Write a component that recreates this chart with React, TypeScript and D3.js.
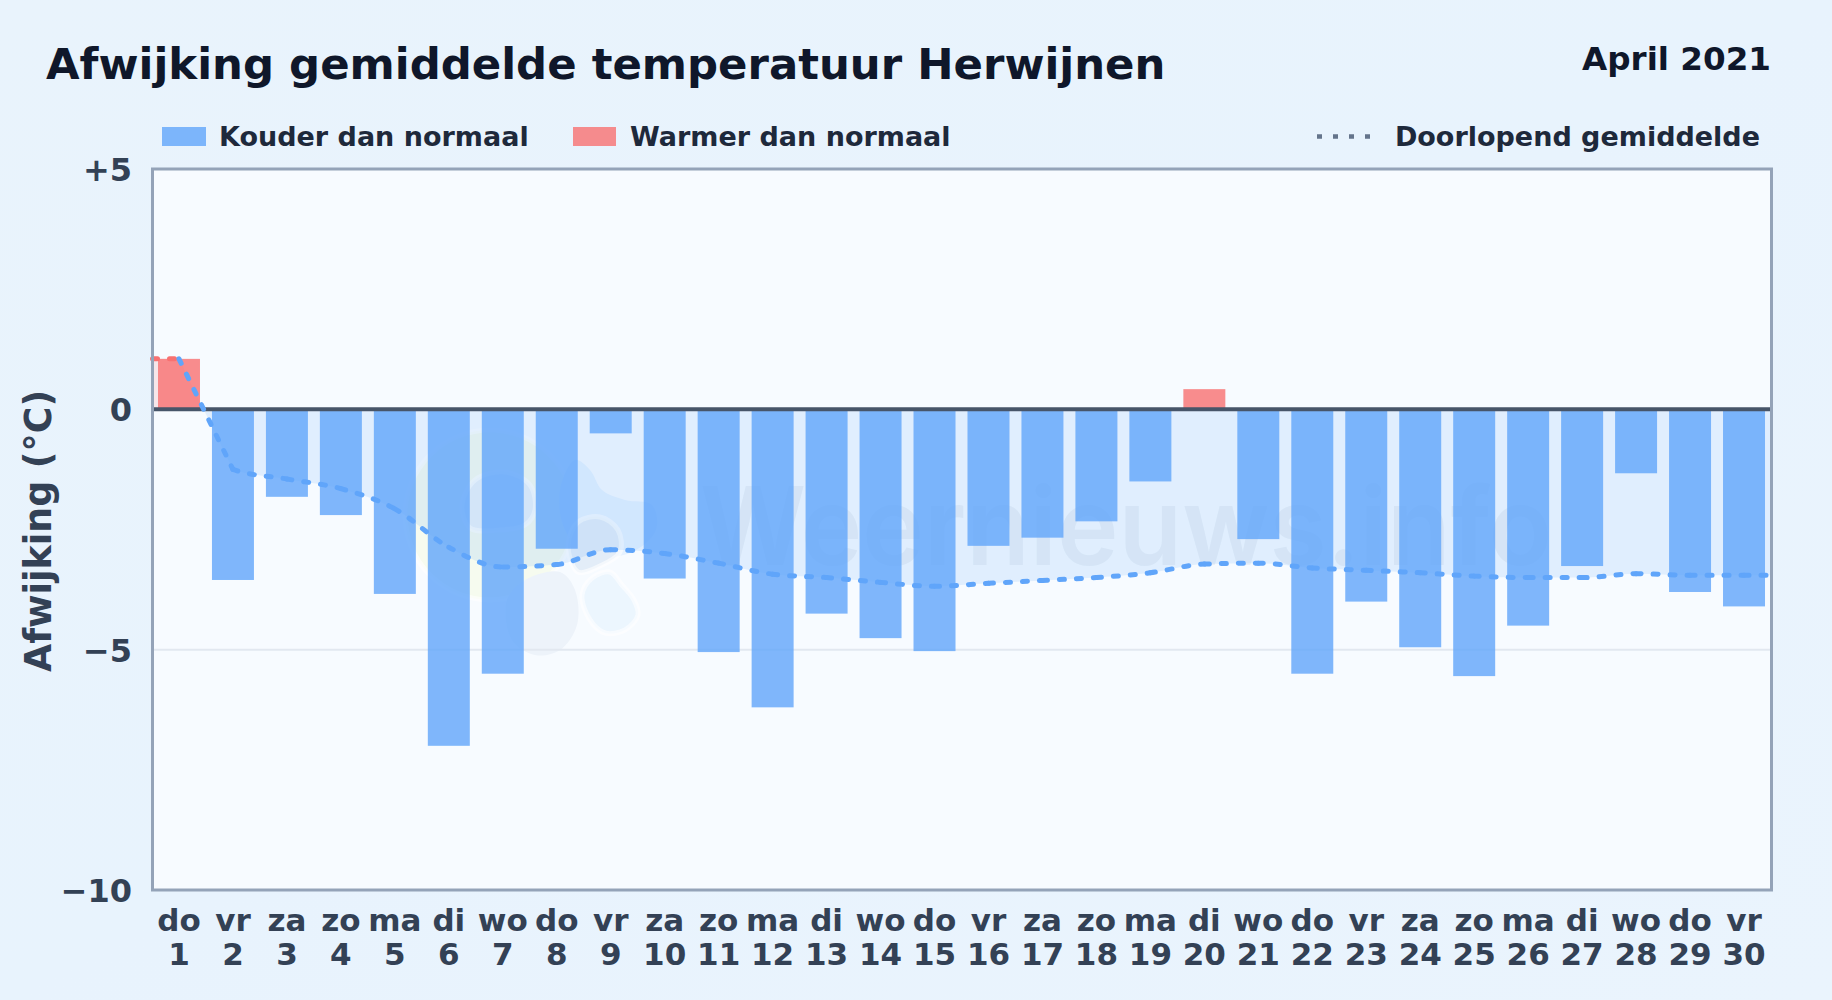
import React from "react";
import * as d3 from "d3";

const weekdays = ["do","vr","za","zo","ma","di","wo","do","vr","za","zo","ma","di","wo","do","vr","za","zo","ma","di","wo","do","vr","za","zo","ma","di","wo","do","vr"];
const dayNumbers = d3.range(1, 31);
const deviation = [1.05,-3.55,-1.82,-2.2,-3.84,-7.0,-5.5,-2.9,-0.5,-3.52,-5.05,-6.2,-4.25,-4.76,-5.03,-2.84,-2.67,-2.33,-1.5,0.42,-2.7,-5.5,-4.0,-4.95,-5.55,-4.5,-3.26,-1.33,-3.8,-4.1];
const runningMean = [1.05,-1.25,-1.45,-1.65,-2.07,-2.87,-3.28,-3.23,-2.92,-3.0,-3.2,-3.43,-3.5,-3.6,-3.68,-3.62,-3.56,-3.5,-3.4,-3.22,-3.2,-3.3,-3.35,-3.4,-3.47,-3.5,-3.5,-3.42,-3.45,-3.45];
const yTicks = [5, 0, -5, -10];
const yTickLabels = ["+5", "0", "\u22125", "\u221210"];

const WIDTH = 1832, HEIGHT = 1000;
const LEFT = 152.5, RIGHT = 1771.5, TOP = 169, BOTTOM = 890;
const FONT = "'DejaVu Sans', sans-serif";

const blob = d3.line<[number, number]>().curve(d3.curveCatmullRomClosed.alpha(0.5));

export default function App() {
  const x = d3.scaleBand<number>().domain(dayNumbers).range([152, 1771]).paddingInner(0.222).paddingOuter(0.111);
  const y = d3.scaleLinear().domain([5, -10]).range([TOP, BOTTOM]);
  const cx = (d: number) => (x(d) as number) + x.bandwidth() / 2;

  const linePath = d3.line<number>()
    .x((_, i) => cx(dayNumbers[i]))
    .y((v) => y(v))
    .curve(d3.curveMonotoneX)(runningMean.slice(0)) as string;
  const curves = linePath.match(/C[^C]*/g) as string[];
  const startX = cx(1), startY = y(runningMean[0]);
  const endX = cx(30), endY = y(runningMean[29]);

  const segments: string[] = [];
  let prev = `${startX},${startY}`;
  curves.forEach((c, i) => {
    const nums = c.slice(1).split(",");
    const end = `${nums[4]},${nums[5]}`;
    // the first drop is practically straight in the reference
    segments.push(i === 0 ? `M${prev}L${end}` : `M${prev}${c}`);
    prev = end;
  });
  const body = segments.map((s, i) => (i === 0 ? s.slice(s.indexOf("L")) : s.slice(s.indexOf("C")))).join("");
  const areaPath = `M${LEFT},${y(0)}L${LEFT},${startY}L${startX},${startY}${body}L${RIGHT},${endY}L${RIGHT},${y(0)}Z`;

  return (
    <svg width={WIDTH} height={HEIGHT} viewBox={`0 0 ${WIDTH} ${HEIGHT}`}
      style={{ position: "absolute", left: 0, top: 0, fontFamily: FONT }}>
      <defs>
        <linearGradient id="bg" x1="0" y1="0" x2="1" y2="1">
          <stop offset="0" stopColor="#e9f3fc" />
          <stop offset="0.5" stopColor="#e8f3fd" />
          <stop offset="1" stopColor="#eaf4fd" />
        </linearGradient>
        <clipPath id="above"><rect x={LEFT} y={TOP} width={RIGHT - LEFT} height={y(0) - TOP} /></clipPath>
        <clipPath id="below"><rect x={LEFT} y={y(0)} width={RIGHT - LEFT} height={BOTTOM - y(0)} /></clipPath>
        <clipPath id="plot"><rect x={LEFT} y={TOP} width={RIGHT - LEFT} height={BOTTOM - TOP} /></clipPath>
      </defs>
      <rect width={WIDTH} height={HEIGHT} fill="url(#bg)" />
      <rect x={LEFT} y={TOP} width={RIGHT - LEFT} height={BOTTOM - TOP} fill="#f7fbff" />

      {/* watermark */}
      <g clipPath="url(#plot)" stroke="#ffffff" strokeOpacity={0.6} strokeWidth={5}>
        <circle cx={490} cy={515} r={85} fill="#f6fbef" />
        <path d={blob([[575,460],[590,470],[602,490],[625,500],[652,505],[656,530],[630,553],[590,555],[565,530],[560,490]]) as string} fill="#e6f2ff" stroke="none" />
        <path d={blob([[462,505],[475,480],[505,472],[530,485],[535,510],[525,525],[500,530],[470,528]]) as string} fill="#e8f0f8" />
        <path d={blob([[507,600],[525,580],[560,572],[575,590],[577,625],[560,650],[535,655],[512,640]]) as string} fill="#edf3fa" stroke="none" />
        <path d={blob([[568,545],[578,522],[600,517],[618,530],[620,552],[600,566],[578,572]]) as string} fill="#e3edf8" />
        <path d={blob([[582,595],[592,578],[610,572],[622,585],[634,600],[638,615],[625,630],[605,633],[590,620]]) as string} fill="#ecf6fe" />
        <text x={700} y={565} fontSize={108} fontWeight={600} fontFamily="Inter, sans-serif" fill="#94a3b8" fillOpacity={0.13} stroke="none" textLength={852} lengthAdjust="spacingAndGlyphs">Weernieuws.info</text>
      </g>

      <path d={areaPath} fill="#f87171" fillOpacity={0.15} clipPath="url(#above)" />
      <path d={areaPath} fill="#60a5fa" fillOpacity={0.15} clipPath="url(#below)" />

      <line x1={LEFT} x2={RIGHT} y1={y(-5)} y2={y(-5)} stroke="#e2e8f0" strokeWidth={2} />

      {deviation.map((v, i) => (
        <rect key={i} x={x(dayNumbers[i])} width={x.bandwidth()}
          y={Math.min(y(0), y(v))} height={Math.abs(y(v) - y(0))}
          fill={v >= 0 ? "#f87171" : "#60a5fa"} fillOpacity={0.8} />
      ))}

      <line x1={LEFT} x2={RIGHT} y1={y(0)} y2={y(0)} stroke="#475569" strokeWidth={4} />

      <g fill="none" strokeWidth={5} strokeLinecap="round" strokeDasharray="5 12">
        <path d={`M${LEFT},${startY}L${startX},${startY}`} stroke="#f87171" />
        {segments.map((d, i) => <path key={i} d={d} stroke="#60a5fa" />)}
        <path d={`M${endX},${endY}L${RIGHT},${endY}`} stroke="#60a5fa" />
      </g>

      <rect x={LEFT} y={TOP} width={RIGHT - LEFT} height={BOTTOM - TOP} fill="none" stroke="#94a3b8" strokeWidth={3} />

      <text x={46} y={79} fontSize={43.4} fontWeight={700} fill="#0f172a">Afwijking gemiddelde temperatuur Herwijnen</text>
      <text x={1771} y={70} fontSize={32.6} fontWeight={700} fill="#0f172a" textAnchor="end">April 2021</text>

      <rect x={162} y={127} width={44} height={19} fill="#60a5fa" fillOpacity={0.8} />
      <text x={219} y={146} fontSize={27} fontWeight={700} fill="#1e293b">Kouder dan normaal</text>
      <rect x={573} y={127} width={43} height={19} fill="#f87171" fillOpacity={0.8} />
      <text x={630} y={146} fontSize={27} fontWeight={700} fill="#1e293b">Warmer dan normaal</text>
      <line x1={1317} x2={1374} y1={136.5} y2={136.5} stroke="#64748b" strokeWidth={4.5} strokeDasharray="5 11" />
      <text x={1760} y={146} fontSize={27} fontWeight={700} fill="#1e293b" textAnchor="end">Doorlopend gemiddelde</text>

      {yTicks.map((t, i) => (
        <text key={t} x={132} y={y(t) + 12} fontSize={32} fontWeight={700} fill="#334155" textAnchor="end">{yTickLabels[i]}</text>
      ))}

      {dayNumbers.map((d, i) => (
        <g key={d} fontSize={31} fontWeight={700} fill="#334155" textAnchor="middle">
          <text x={cx(d)} y={931}>{weekdays[i]}</text>
          <text x={cx(d)} y={965}>{d}</text>
        </g>
      ))}

      <text transform={`translate(51,531) rotate(-90)`} fontSize={36.4} fontWeight={700} fill="#334155" textAnchor="middle">Afwijking (°C)</text>
    </svg>
  );
}
